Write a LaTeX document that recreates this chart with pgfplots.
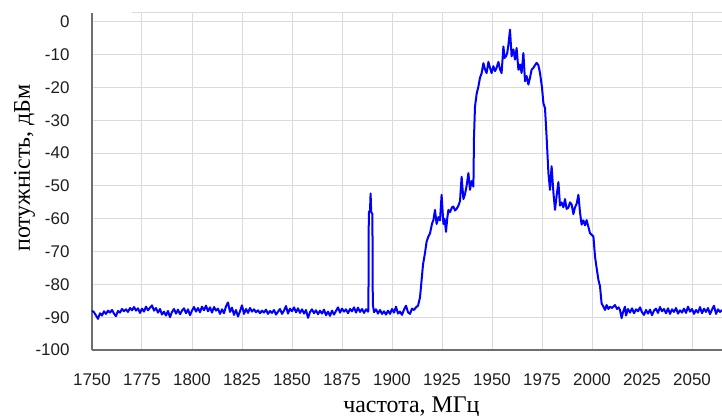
\documentclass[border=0pt]{standalone}
\usepackage{fontspec}
\setmainfont{Liberation Serif}
\newfontfamily\arial{Liberation Sans}
\usepackage{pgfplots}
\pgfplotsset{compat=1.18}

\definecolor{gridgray}{RGB}{218,218,218}
\definecolor{axisgray}{RGB}{110,110,110}
\definecolor{ticktext}{RGB}{30,30,30}

\begin{document}
\begin{tikzpicture}
\useasboundingbox (-92bp,-66bp) rectangle (630bp,350bp);
\begin{axis}[
  scale only axis,
  width=630bp, height=337bp,
  xmin=1750, xmax=2065,
  ymin=-100, ymax=2.7,
  xtick={1750,1775,...,2050},
  ytick={-100,-90,...,0},
  axis x line*=bottom, axis y line*=left,
  axis line style={draw=axisgray, line width=1.2bp, -},
  major tick length=0pt,
  grid=major,
  major grid style={draw=gridgray, line width=1bp},
  /pgf/number format/assume math mode=true,
  /pgf/number format/1000 sep={},
  tick label style={font=\arial\fontsize{17}{19}\selectfont, text=ticktext},
  xticklabel style={yshift=-20bp},
  yticklabel style={xshift=-19bp},
  xlabel={частота, МГц},
  ylabel={потужність, дБм},
  every axis x label/.style={at={(axis description cs:0.507,-0.168)}, anchor=center,
    font=\fontsize{24}{27}\selectfont, text=black},
  every axis y label/.style={at={(axis description cs:-0.107,0.54)}, rotate=90, anchor=center,
    font=\fontsize{24}{27}\selectfont, text=black},
  clip=false,
]
\draw[gridgray, line width=1bp] (axis cs:1770,2.7) -- (axis cs:2065,2.7);
\addplot[draw=blue, line width=2bp, line join=round, mark=none] coordinates {
(1750,-88.0) (1751,-88.5) (1752,-89.5) (1753,-90.5) (1754,-88.8) (1755,-89.5) (1756,-88.2) (1757,-89.0) (1758,-88.0) (1759,-88.6)
(1760,-87.8) (1761,-88.9) (1762,-89.7) (1763,-88.1) (1764,-88.6) (1765,-87.5) (1766,-88.2) (1767,-87.6) (1768,-88.4) (1769,-87.2)
(1770,-87.9) (1771,-86.9) (1772,-88.0) (1773,-87.3) (1774,-88.7) (1775,-87.4) (1776,-88.3) (1777,-86.8) (1778,-87.9) (1779,-87.1)
(1780,-86.4) (1781,-88.0) (1782,-87.2) (1783,-88.6) (1784,-87.5) (1785,-89.2) (1786,-88.3) (1787,-89.5) (1788,-88.1) (1789,-90.0)
(1790,-88.4) (1791,-87.5) (1792,-88.9) (1793,-87.7) (1794,-89.1) (1795,-88.0) (1796,-87.3) (1797,-88.8) (1798,-87.6) (1799,-89.4)
(1800,-88.0) (1801,-86.9) (1802,-88.3) (1803,-87.2) (1804,-88.5) (1805,-86.8) (1806,-87.9) (1807,-86.5) (1808,-88.2) (1809,-87.0)
(1810,-88.6) (1811,-86.9) (1812,-88.0) (1813,-87.4) (1814,-89.0) (1815,-87.6) (1816,-88.8) (1817,-86.7) (1818,-85.5) (1819,-88.4)
(1820,-87.1) (1821,-89.3) (1822,-87.8) (1823,-89.8) (1824,-88.2) (1825,-86.4) (1826,-89.0) (1827,-87.5) (1828,-88.7) (1829,-87.2)
(1830,-88.3) (1831,-87.6) (1832,-88.5) (1833,-87.9) (1834,-88.8) (1835,-88.0) (1836,-88.6) (1837,-87.7) (1838,-89.0) (1839,-88.1)
(1840,-88.7) (1841,-87.8) (1842,-89.2) (1843,-88.3) (1844,-87.5) (1845,-89.0) (1846,-88.0) (1847,-86.6) (1848,-88.9) (1849,-87.4)
(1850,-88.2) (1851,-87.0) (1852,-88.5) (1853,-87.3) (1854,-88.7) (1855,-87.6) (1856,-88.9) (1857,-87.8) (1858,-90.2) (1859,-88.4)
(1860,-87.6) (1861,-88.8) (1862,-87.9) (1863,-89.1) (1864,-88.0) (1865,-88.9) (1866,-87.7) (1867,-89.4) (1868,-88.3) (1869,-89.6)
(1870,-88.0) (1871,-89.2) (1872,-88.1) (1873,-87.0) (1874,-88.6) (1875,-87.4) (1876,-88.3) (1877,-87.6) (1878,-88.8) (1879,-87.5)
(1880,-88.2) (1881,-87.0) (1882,-88.6) (1883,-87.1) (1884,-88.4) (1885,-87.5) (1886,-88.7) (1887,-87.6) (1888,-88.3)
(1888.2,-88.0) (1888.4,-58.0) (1889.0,-57.5) (1889.3,-52.3) (1889.6,-58.0) (1890.2,-58.5) (1890.4,-86.0)
(1891,-88.5) (1892,-87.6) (1893,-88.9) (1894,-87.8) (1895,-89.0) (1896,-88.2) (1897,-89.2) (1898,-88.0) (1899,-89.0)
(1900,-87.5) (1901,-88.6) (1902,-86.8) (1903,-88.9) (1904,-88.3) (1905,-89.3) (1906,-87.7) (1907,-86.5) (1908,-88.5) (1909,-89.0)
(1910,-87.4) (1911,-87.8) (1912,-87.0) (1913,-86.5) (1914,-84.0) (1914.8,-78.7) (1915.5,-74.0) (1916.5,-70.4) (1917.3,-67.0)
(1918.2,-65.4) (1919,-64.5) (1920,-61.5) (1920.7,-60.4) (1921.5,-57.3) (1922.3,-61.6) (1923.2,-59.5) (1924,-60.5) (1924.8,-52.7)
(1925.7,-61.6) (1926.3,-60.0) (1927,-64.0) (1927.6,-60.0) (1928.2,-57.3) (1929,-58.0) (1930,-56.5) (1930.7,-56.3) (1931.5,-57.5)
(1932.3,-57.0) (1933.2,-56.0) (1934,-54.6) (1934.8,-47.2) (1935.7,-54.0) (1936.5,-52.5) (1937.3,-50.0) (1938.2,-46.1) (1939,-51.2)
(1939.8,-48.5) (1940.7,-50.2) (1941,-35.0) (1941.5,-25.8) (1942.3,-22.0) (1943.2,-19.7) (1944,-17.0) (1944.8,-15.7) (1945.7,-12.6)
(1946.5,-14.5) (1947.3,-15.6) (1948.2,-12.2) (1949,-14.0) (1949.8,-15.6) (1950.7,-13.5) (1951.5,-15.0) (1952.3,-14.0) (1953.2,-12.2)
(1954,-14.5) (1954.8,-15.6) (1955.7,-7.5) (1956.3,-11.0) (1957,-10.5) (1957.6,-9.5) (1958.2,-7.0) (1959,-2.4) (1959.8,-10.5)
(1960.7,-8.4) (1961.5,-11.5) (1962.3,-8.0) (1963.2,-14.6) (1964,-13.0) (1964.8,-15.6) (1965.7,-9.5) (1966.5,-18.1) (1967.3,-16.5)
(1968.2,-19.1) (1969,-17.0) (1969.8,-14.6) (1970.7,-14.0) (1971.5,-13.2) (1972.3,-12.5) (1973.2,-13.2) (1974,-15.6) (1975,-20.0)
(1975.7,-24.8) (1976.5,-26.3) (1977.3,-35.0) (1978.2,-46.0) (1979,-51.2) (1979.8,-44.0) (1980.7,-52.0) (1981.5,-57.3) (1982.3,-53.0)
(1983.2,-48.8) (1984,-56.0) (1984.8,-55.0) (1985.7,-56.5) (1986.5,-54.0) (1987.3,-57.0) (1988.2,-56.6) (1989,-55.0) (1989.8,-55.6)
(1990.7,-58.6) (1991.5,-56.5) (1992.3,-55.5) (1993.2,-52.7) (1994,-58.0) (1994.8,-61.8) (1995.7,-60.5) (1996.5,-62.0) (1997.3,-60.4)
(1998.2,-62.5) (1999,-64.4) (2000.7,-65.4) (2001.5,-71.5) (2002.3,-75.0) (2003.2,-78.6) (2004,-80.6) (2004.8,-85.8) (2005.7,-86.8)
(2006.5,-87.8) (2007.3,-86.3) (2008.2,-87.5) (2009,-86.8) (2010,-87.2) (2011.5,-86.3) (2012.5,-87.5) (2013.3,-87.0) (2014,-87.8)
(2014.8,-90.3) (2015.5,-88.5) (2016.5,-86.8) (2017,-89.5) (2018,-87.5) (2019,-88.6) (2020,-87.3) (2021,-88.8) (2022,-87.6)
(2023,-88.2) (2024,-87.0) (2025,-88.5) (2026,-89.3) (2027,-87.8) (2028,-88.9) (2029,-87.7) (2030,-89.4) (2031,-88.0) (2032,-87.4)
(2033,-88.7) (2034,-86.9) (2035,-88.2) (2036,-87.5) (2037,-88.8) (2038,-87.3) (2039,-89.0) (2040,-87.6) (2041,-88.4) (2042,-87.2)
(2043,-88.9) (2044,-87.9) (2045,-88.6) (2046,-87.4) (2047,-88.7) (2048,-86.8) (2049,-88.3) (2050,-87.5) (2051,-89.0) (2052,-87.8)
(2053,-88.6) (2054,-86.9) (2055,-88.8) (2056,-87.4) (2057,-88.4) (2058,-87.2) (2059,-89.1) (2060,-87.7) (2061,-86.5) (2062,-89.0)
(2063,-87.6) (2064,-88.4) (2065,-87.8)
};
\end{axis}
\end{tikzpicture}
\end{document}
